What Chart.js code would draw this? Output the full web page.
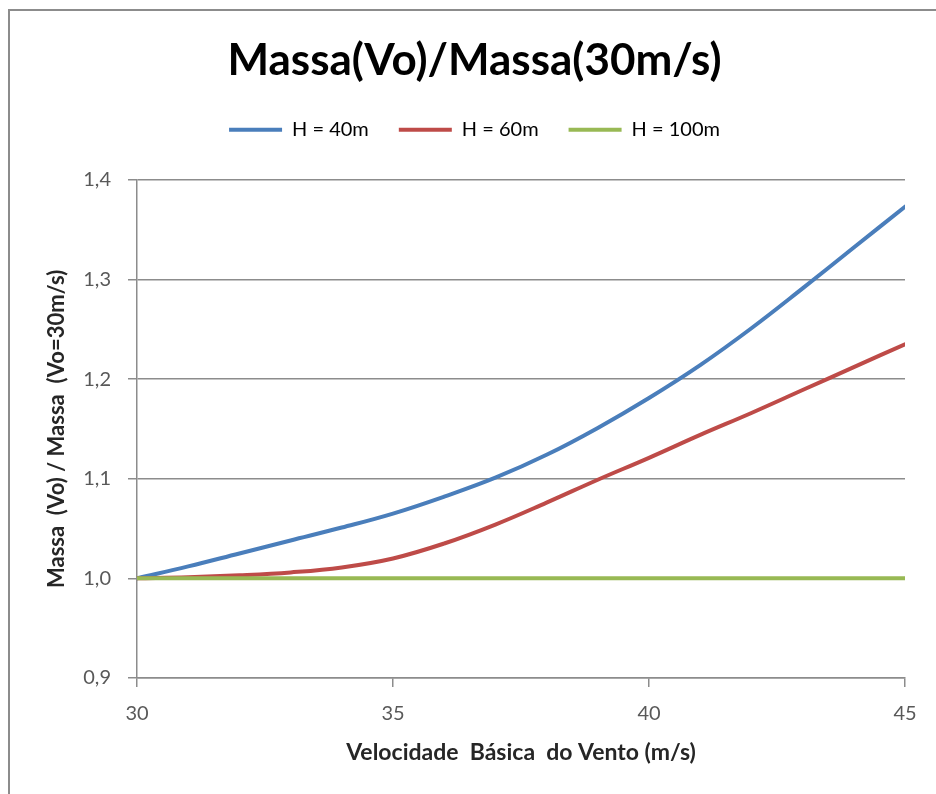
<!DOCTYPE html>
<html>
<head>
<meta charset="utf-8">
<script src="https://cdn.jsdelivr.net/npm/chart.js@4.4.1/dist/chart.umd.min.js"></script>
<style>
  html, body { margin: 0; padding: 0; background: #fff; width: 936px; height: 794px; overflow: hidden; }
  #frame { position: absolute; left: 8px; top: 9px; width: 1000px; height: 900px;
           border-left: 2px solid #8c8c8c; border-top: 2px solid #8c8c8c; box-sizing: border-box; }
  #wrap { position: absolute; left: 0; top: 0; width: 936px; height: 794px; }
</style>
</head>
<body>
<div id="frame"></div>
<div id="wrap"><canvas id="chart" width="936" height="794"></canvas></div>
<script>
// Basic wind speed (m/s)
const velocidade = [30, 31, 32, 33, 34, 35, 36, 37, 38, 39, 40, 41, 42, 43, 44, 45];

// Mass ratio Massa(Vo) / Massa(Vo = 30 m/s) for each tower height
const massaH40  = [1.000, 1.012, 1.025, 1.038, 1.051, 1.065, 1.082, 1.101, 1.124, 1.151, 1.181, 1.214, 1.251, 1.291, 1.332, 1.373];
const massaH60  = [1.000, 1.001, 1.003, 1.006, 1.011, 1.020, 1.035, 1.054, 1.076, 1.099, 1.121, 1.144, 1.166, 1.189, 1.212, 1.235];
const massaH100 = [1.000, 1.000, 1.000, 1.000, 1.000, 1.000, 1.000, 1.000, 1.000, 1.000, 1.000, 1.000, 1.000, 1.000, 1.000, 1.000];

const seriesNames = ['H = 40m', 'H = 60m', 'H = 100m'];
const seriesColors = ['#4A7EBB', '#BE4B48', '#98B954'];

const xTicks = [30, 35, 40, 45];
const yTicks = [0.9, 1.0, 1.1, 1.2, 1.3, 1.4];
const yTickLabels = ['0,9', '1,0', '1,1', '1,2', '1,3', '1,4'];

const FONT = 'Lato, "Open Sans", sans-serif';
const AXIS_GREY = '#8c8c8c';

const toPoints = arr => velocidade.map((v, i) => ({ x: v, y: arr[i] }));

const datasets = [massaH40, massaH60, massaH100].map((arr, i) => ({
  label: seriesNames[i],
  data: toPoints(arr),
  borderColor: seriesColors[i],
  backgroundColor: seriesColors[i],
  // the flat H = 100m line sits on top of the others
  order: 2 - i
}));

new Chart(document.getElementById('chart'), {
  type: 'line',
  data: { datasets },
  options: {
    responsive: false,
    animation: false,
    devicePixelRatio: 1,
    layout: { padding: { left: 44, right: 31, top: 0, bottom: 0 } },
    elements: {
      line: { borderWidth: 4, tension: 0.4, borderCapStyle: 'round' },
      point: { radius: 0, hoverRadius: 0 }
    },
    plugins: {
      title: {
        display: true,
        text: 'Massa(Vo)/Massa(30m/s)',
        color: '#000',
        font: { family: FONT, size: 44, weight: 'bold' },
        padding: { top: 34, bottom: 3 }
      },
      legend: {
        position: 'top',
        labels: {
          boxWidth: 53,
          boxHeight: 4,
          padding: 30,
          color: '#404040',
          font: { family: FONT, size: 20 },
          generateLabels: chart => chart.data.datasets.map((ds, i) => ({
            text: ds.label,
            fillStyle: ds.borderColor,
            strokeStyle: ds.borderColor,
            lineWidth: 0,
            hidden: false,
            datasetIndex: i
          }))
        }
      },
      tooltip: { enabled: false }
    },
    scales: {
      x: {
        type: 'linear',
        position: 'bottom',
        min: 30,
        max: 45,
        afterBuildTicks: s => { s.ticks = xTicks.map(v => ({ value: v })); },
        afterFit: s => { s.height = 116; },
        ticks: { padding: 15, color: '#595959', font: { family: FONT, size: 20 } },
        grid: { drawOnChartArea: false, tickLength: 9, color: AXIS_GREY, lineWidth: 1.5 },
        border: { color: AXIS_GREY, width: 1.5 },
        title: {
          display: true,
          text: 'Velocidade  Básica  do Vento (m/s)',
          color: '#262626',
          font: { family: FONT, size: 23, weight: 'bold' },
          padding: { top: 0, bottom: 28 }
        }
      },
      y: {
        type: 'linear',
        position: 'left',
        min: 0.9,
        max: 1.4,
        afterBuildTicks: s => { s.ticks = yTicks.map(v => ({ value: v })); },
        afterFit: s => { s.width = 93; },
        ticks: {
          padding: 17,
          color: '#595959',
          font: { family: FONT, size: 20 },
          callback: (v, i) => yTickLabels[i]
        },
        grid: { tickLength: 9, color: AXIS_GREY, lineWidth: 1.5 },
        border: { color: AXIS_GREY, width: 1.5 },
        title: {
          display: true,
          text: 'Massa  (Vo) / Massa  (Vo=30m/s)',
          color: '#262626',
          font: { family: FONT, size: 22, weight: 'bold' },
          padding: { top: 0, bottom: 0 }
        }
      },
      // empty band between the legend and the plot
      gap: {
        type: 'linear',
        position: 'top',
        display: true,
        ticks: { display: false },
        grid: { display: false },
        border: { display: false },
        afterFit: s => { s.height = 30; }
      }
    }
  }
});
</script>
</body>
</html>
